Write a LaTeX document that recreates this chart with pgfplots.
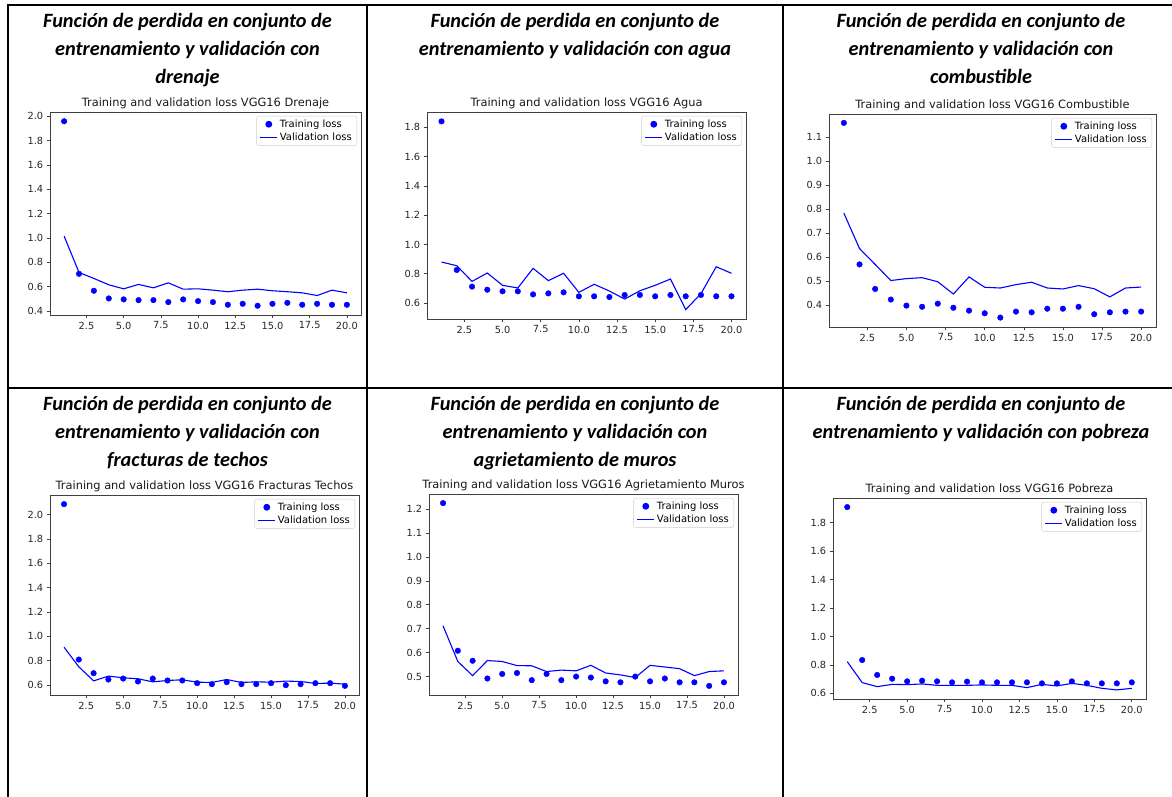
\documentclass[border=0pt]{standalone}
\usepackage{fontspec}
\setmainfont{DejaVu Sans}
\newfontfamily\carlito{Carlito}
\usepackage{pgfplots}
\usepackage{pgfplotstable}
\pgfplotsset{compat=1.18}

\pgfplotstableread{
x t v
1 1.959 1.015
2 0.706 0.717
3 0.567 0.668
4 0.504 0.616
5 0.496 0.583
6 0.490 0.619
7 0.490 0.591
8 0.474 0.632
9 0.496 0.580
10 0.482 0.583
11 0.474 0.572
12 0.452 0.559
13 0.460 0.572
14 0.444 0.580
15 0.460 0.567
16 0.468 0.559
17 0.452 0.550
18 0.460 0.528
19 0.452 0.572
20 0.452 0.550
}\drenaje

\pgfplotstableread{
x t v
1 1.841 0.880
2 0.826 0.855
3 0.712 0.748
4 0.691 0.805
5 0.680 0.721
6 0.680 0.703
7 0.659 0.837
8 0.666 0.753
9 0.673 0.803
10 0.646 0.673
11 0.646 0.728
12 0.641 0.682
13 0.655 0.627
14 0.655 0.684
15 0.646 0.721
16 0.655 0.764
17 0.646 0.555
18 0.655 0.664
19 0.646 0.848
20 0.646 0.803
}\agua

\pgfplotstableread{
x t v
1 1.158 0.783
2 0.570 0.636
3 0.468 0.570
4 0.424 0.503
5 0.399 0.511
6 0.394 0.515
7 0.407 0.498
8 0.390 0.447
9 0.378 0.518
10 0.367 0.475
11 0.349 0.472
12 0.374 0.486
13 0.371 0.496
14 0.386 0.472
15 0.386 0.468
16 0.394 0.482
17 0.363 0.469
18 0.371 0.435
19 0.374 0.472
20 0.374 0.476
}\combustible

\pgfplotstableread{
x t v
1 2.085 0.911
2 0.810 0.750
3 0.698 0.635
4 0.646 0.674
5 0.654 0.660
6 0.630 0.652
7 0.654 0.627
8 0.638 0.638
9 0.638 0.644
10 0.616 0.624
11 0.608 0.622
12 0.624 0.646
13 0.608 0.622
14 0.608 0.627
15 0.616 0.624
16 0.600 0.633
17 0.608 0.630
18 0.616 0.614
19 0.616 0.616
20 0.594 0.608
}\techos

\pgfplotstableread{
x t v
1 1.225 0.712
2 0.608 0.563
3 0.566 0.504
4 0.492 0.567
5 0.511 0.563
6 0.515 0.546
7 0.485 0.545
8 0.511 0.521
9 0.485 0.527
10 0.500 0.524
11 0.496 0.547
12 0.480 0.515
13 0.476 0.507
14 0.500 0.496
15 0.480 0.547
16 0.492 0.540
17 0.476 0.533
18 0.476 0.504
19 0.461 0.521
20 0.476 0.524
}\muros

\pgfplotstableread{
x t v
1 1.910 0.823
2 0.834 0.675
3 0.729 0.647
4 0.703 0.663
5 0.684 0.661
6 0.689 0.666
7 0.684 0.656
8 0.677 0.656
9 0.682 0.656
10 0.677 0.659
11 0.677 0.656
12 0.677 0.656
13 0.677 0.640
14 0.670 0.663
15 0.670 0.652
16 0.684 0.670
17 0.670 0.656
18 0.670 0.635
19 0.670 0.624
20 0.677 0.635
}\pobreza

\pgfplotsset{
  lossplot/.style={
    scale only axis,
    xmin=0.05, xmax=20.95,
    xtick={2.5,5,7.5,10,12.5,15,17.5,20},
    tick align=outside,
    xtick pos=left, ytick pos=left,
    major tick length=3.3pt,
    every tick/.style={black!75, line width=0.6pt},
    axis line style={black!75, line width=0.7pt},
    tick label style={font=\fontsize{9.8}{11}\selectfont, text=black!85},
    /pgf/number format/fixed,
    /pgf/number format/fixed zerofill,
    /pgf/number format/precision=1,
    /pgf/number format/assume math mode=true,
    title style={font=\fontsize{11.4}{13}\selectfont, text=black!90, at={(0.5,1)}, anchor=base, yshift=-0.5pt, inner sep=0pt},
    legend style={at={(1,1)}, anchor=north east, xshift=-4pt, yshift=-4pt,
      draw=black!20, rounded corners=2pt, fill=white,
      font=\fontsize{10}{11}\selectfont,
      inner xsep=3pt, inner ysep=1.5pt},
    legend image post style={draw=blue, line width=1.2pt},
    legend cell align=left,
  },
  trainplot/.style={only marks, mark=*, mark size=2.8pt, color=blue, mark options={draw=blue, fill=blue}},
  valplot/.style={color=blue, draw=blue, line width=1.1pt, mark=none},
}

\newcommand{\heading}[3]{\node[anchor=base, inner sep=0pt, font=\carlito\bfseries\itshape\fontsize{20.3}{24}\selectfont] at (#1,#2) {#3};}

\begin{document}
\begin{tikzpicture}[x=1pt,y=1pt]
\path[use as bounding box, clip] (0,0) rectangle (1172,797);

% table lines
\draw[line width=2pt] (8,0) -- (8,792) -- (1172,792);
\draw[line width=2pt] (367,0) -- (367,792);
\draw[line width=2pt] (783,0) -- (783,792);
\draw[line width=2pt] (8,409) -- (1172,409);

% headings row 1
\heading{187.5}{769}{Función de perdida en conjunto de}
\heading{187.5}{741}{entrenamiento y validación con}
\heading{187.5}{713}{drenaje}
\heading{575}{769}{Función de perdida en conjunto de}
\heading{575}{741}{entrenamiento y validación con agua}
\heading{981}{769}{Función de perdida en conjunto de}
\heading{981}{741}{entrenamiento y validación con}
\heading{981}{713}{combustible}
% headings row 2
\heading{187.5}{386}{Función de perdida en conjunto de}
\heading{187.5}{358}{entrenamiento y validación con}
\heading{187.5}{330}{fracturas de techos}
\heading{575}{386}{Función de perdida en conjunto de}
\heading{575}{358}{entrenamiento y validación con}
\heading{575}{330}{agrietamiento de muros}
\heading{981}{386}{Función de perdida en conjunto de}
\heading{981}{358}{entrenamiento y validación con pobreza}

% chart 1
\begin{axis}[lossplot, at={(50pt,482pt)}, anchor=south west, width=311pt, height=203pt,
  ymin=0.368, ymax=2.035, ytick={0.4,0.6,0.8,1.0,1.2,1.4,1.6,1.8,2.0},
  title={Training and validation loss VGG16 Drenaje}]
\addplot[trainplot] table[x=x,y=t]{\drenaje};
\addplot[valplot] table[x=x,y=v]{\drenaje};
\legend{Training loss, Validation loss}
\end{axis}

% chart 2
\begin{axis}[lossplot, at={(427pt,478pt)}, anchor=south west, width=319pt, height=207pt,
  ymin=0.491, ymax=1.905, ytick={0.6,0.8,1.0,1.2,1.4,1.6,1.8},
  title={Training and validation loss VGG16 Agua}]
\addplot[trainplot] table[x=x,y=t]{\agua};
\addplot[valplot] table[x=x,y=v]{\agua};
\legend{Training loss, Validation loss}
\end{axis}

% chart 3
\begin{axis}[lossplot, at={(829pt,470pt)}, anchor=south west, width=327pt, height=213pt,
  ymin=0.310, ymax=1.195, ytick={0.4,0.5,0.6,0.7,0.8,0.9,1.0,1.1},
  title={Training and validation loss VGG16 Combustible}]
\addplot[trainplot] table[x=x,y=t]{\combustible};
\addplot[valplot] table[x=x,y=v]{\combustible};
\legend{Training loss, Validation loss}
\end{axis}

% chart 4
\begin{axis}[lossplot, at={(50pt,102pt)}, anchor=south west, width=309pt, height=200pt,
  ymin=0.519, ymax=2.160, ytick={0.6,0.8,1.0,1.2,1.4,1.6,1.8,2.0},
  title={Training and validation loss VGG16 Fracturas Techos}]
\addplot[trainplot] table[x=x,y=t]{\techos};
\addplot[valplot] table[x=x,y=v]{\techos};
\legend{Training loss, Validation loss}
\end{axis}

% chart 5
\begin{axis}[lossplot, at={(429pt,102pt)}, anchor=south west, width=309pt, height=201pt,
  ymin=0.423, ymax=1.263, ytick={0.5,0.6,0.7,0.8,0.9,1.0,1.1,1.2},
  title={Training and validation loss VGG16 Agrietamiento Muros}]
\addplot[trainplot] table[x=x,y=t]{\muros};
\addplot[valplot] table[x=x,y=v]{\muros};
\legend{Training loss, Validation loss}
\end{axis}

% chart 6
\begin{axis}[lossplot, at={(833pt,98pt)}, anchor=south west, width=313pt, height=201pt,
  ymin=0.560, ymax=1.974, ytick={0.6,0.8,1.0,1.2,1.4,1.6,1.8},
  title={Training and validation loss VGG16 Pobreza}]
\addplot[trainplot] table[x=x,y=t]{\pobreza};
\addplot[valplot] table[x=x,y=v]{\pobreza};
\legend{Training loss, Validation loss}
\end{axis}

\end{tikzpicture}
\end{document}
